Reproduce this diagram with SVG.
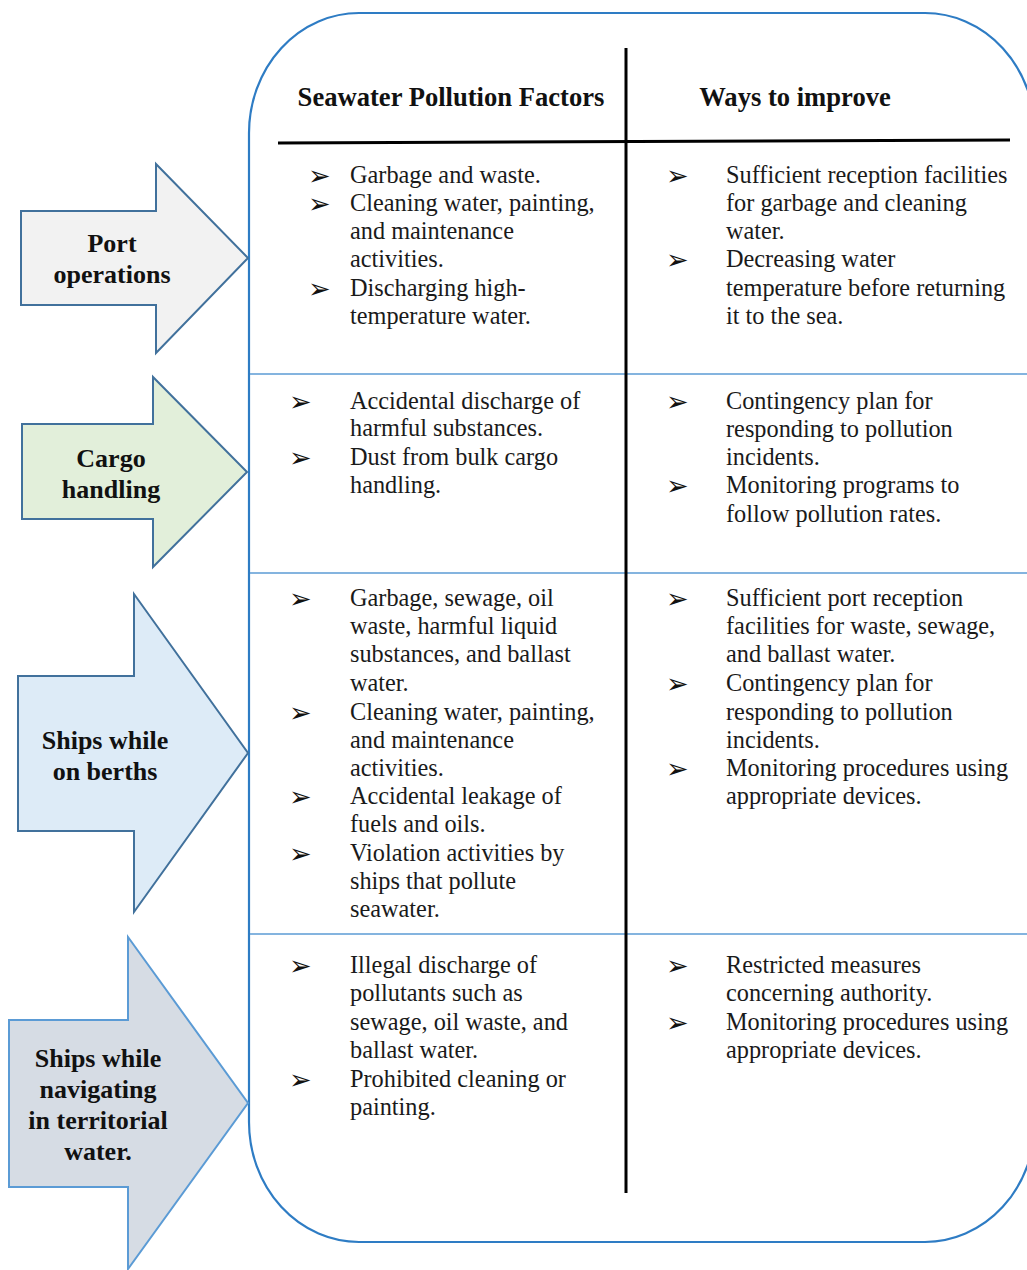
<svg xmlns="http://www.w3.org/2000/svg" width="1027" height="1270" viewBox="0 0 1027 1270">
<style>
.body{font-family:"Liberation Serif","Times New Roman",serif;font-size:24.3px;fill:#1a1a1a}
.bul{font-family:"DejaVu Sans",sans-serif;font-size:27px;fill:#111}
.hdr{font-family:"Liberation Serif","Times New Roman",serif;font-size:26.6px;font-weight:bold;fill:#111;text-anchor:middle}
.lbl{font-family:"Liberation Serif","Times New Roman",serif;font-size:26px;font-weight:bold;fill:#111;text-anchor:middle}
.arr{stroke:#41719C;stroke-width:2;stroke-linejoin:miter}
.sep{stroke:#5B9BD5;stroke-width:1.5}
.blk{stroke:#000;stroke-width:3}
</style>
<rect width="1027" height="1270" fill="#fff"/>

<g id="frame">
<rect x="249" y="13" width="786" height="1229" rx="110" ry="120" fill="#fff" stroke="#2E7CC4" stroke-width="2.2"/>
</g>

<g id="connectors">
<line class="sep" x1="250" y1="374" x2="1027" y2="374"/>
<line class="sep" x1="250" y1="573" x2="1027" y2="573"/>
<line class="sep" x1="250" y1="934" x2="1027" y2="934"/>
<line class="blk" x1="278" y1="143" x2="1010" y2="140"/>
<line class="blk" x1="626" y1="48" x2="626" y2="1193"/>
</g>

<g id="header">
<text class="hdr" x="451" y="106">Seawater Pollution Factors</text>
<text class="hdr" x="795" y="106">Ways to improve</text>
</g>

<g id="arrow-port">
<polygon class="arr" fill="#F2F2F2" points="21,211 156,211 156,164 248,258 156,353 156,305 21,305"/>
<text class="lbl" x="112" y="252">Port</text>
<text class="lbl" x="112" y="283">operations</text>
</g>

<g id="arrow-cargo">
<polygon class="arr" fill="#E2EFDA" points="22,424 153,424 153,377 247,472 153,567 153,519 22,519"/>
<text class="lbl" x="111" y="467">Cargo</text>
<text class="lbl" x="111" y="498">handling</text>
</g>

<g id="arrow-berths">
<polygon class="arr" fill="#DDEBF7" points="18,676 134,676 134,594 248,753 134,912 134,831 18,831"/>
<text class="lbl" x="105" y="749">Ships while</text>
<text class="lbl" x="105" y="780">on berths</text>
</g>

<g id="arrow-navigating">
<polygon fill="#D6DCE4" stroke="#5B9BD5" stroke-width="2" points="9,1020 128,1020 128,937 248,1103 128,1269 128,1187 9,1187"/>
<text class="lbl" x="98" y="1067">Ships while</text>
<text class="lbl" x="98" y="1098">navigating</text>
<text class="lbl" x="98" y="1129">in territorial</text>
<text class="lbl" x="98" y="1160">water.</text>
</g>

<g id="row1-factors">
<text class="bul" x="308" y="185">➢</text>
<text class="bul" x="308" y="213">➢</text>
<text class="bul" x="308" y="298">➢</text>
<text class="body" x="350" y="183">Garbage and waste.</text>
<text class="body" x="350" y="211">Cleaning water, painting,</text>
<text class="body" x="350" y="239">and maintenance</text>
<text class="body" x="350" y="267">activities.</text>
<text class="body" x="350" y="296">Discharging high-</text>
<text class="body" x="350" y="324">temperature water.</text>
</g>

<g id="row1-improve">
<text class="bul" x="666" y="185">➢</text>
<text class="bul" x="666" y="269">➢</text>
<text class="body" x="726" y="183">Sufficient reception facilities</text>
<text class="body" x="726" y="211">for garbage and cleaning</text>
<text class="body" x="726" y="239">water.</text>
<text class="body" x="726" y="267">Decreasing water</text>
<text class="body" x="726" y="296">temperature before returning</text>
<text class="body" x="726" y="324">it to the sea.</text>
</g>

<g id="row2-factors">
<text class="bul" x="289" y="411">➢</text>
<text class="bul" x="289" y="467">➢</text>
<text class="body" x="350" y="409">Accidental discharge of</text>
<text class="body" x="350" y="436">harmful substances.</text>
<text class="body" x="350" y="465">Dust from bulk cargo</text>
<text class="body" x="350" y="493">handling.</text>
</g>

<g id="row2-improve">
<text class="bul" x="666" y="411">➢</text>
<text class="bul" x="666" y="495">➢</text>
<text class="body" x="726" y="409">Contingency plan for</text>
<text class="body" x="726" y="437">responding to pollution</text>
<text class="body" x="726" y="465">incidents.</text>
<text class="body" x="726" y="493">Monitoring programs to</text>
<text class="body" x="726" y="522">follow pollution rates.</text>
</g>

<g id="row3-factors">
<text class="bul" x="289" y="608">➢</text>
<text class="bul" x="289" y="722">➢</text>
<text class="bul" x="289" y="806">➢</text>
<text class="bul" x="289" y="863">➢</text>
<text class="body" x="350" y="606">Garbage, sewage, oil</text>
<text class="body" x="350" y="634">waste, harmful liquid</text>
<text class="body" x="350" y="662">substances, and ballast</text>
<text class="body" x="350" y="691">water.</text>
<text class="body" x="350" y="720">Cleaning water, painting,</text>
<text class="body" x="350" y="748">and maintenance</text>
<text class="body" x="350" y="776">activities.</text>
<text class="body" x="350" y="804">Accidental leakage of</text>
<text class="body" x="350" y="832">fuels and oils.</text>
<text class="body" x="350" y="861">Violation activities by</text>
<text class="body" x="350" y="889">ships that pollute</text>
<text class="body" x="350" y="917">seawater.</text>
</g>

<g id="row3-improve">
<text class="bul" x="666" y="608">➢</text>
<text class="bul" x="666" y="693">➢</text>
<text class="bul" x="666" y="778">➢</text>
<text class="body" x="726" y="606">Sufficient port reception</text>
<text class="body" x="726" y="634">facilities for waste, sewage,</text>
<text class="body" x="726" y="662">and ballast water.</text>
<text class="body" x="726" y="691">Contingency plan for</text>
<text class="body" x="726" y="720">responding to pollution</text>
<text class="body" x="726" y="748">incidents.</text>
<text class="body" x="726" y="776">Monitoring procedures using</text>
<text class="body" x="726" y="804">appropriate devices.</text>
</g>

<g id="row4-factors">
<text class="bul" x="289" y="975">➢</text>
<text class="bul" x="289" y="1089">➢</text>
<text class="body" x="350" y="973">Illegal discharge of</text>
<text class="body" x="350" y="1001">pollutants such as</text>
<text class="body" x="350" y="1030">sewage, oil waste, and</text>
<text class="body" x="350" y="1058">ballast water.</text>
<text class="body" x="350" y="1087">Prohibited cleaning or</text>
<text class="body" x="350" y="1115">painting.</text>
</g>

<g id="row4-improve">
<text class="bul" x="666" y="975">➢</text>
<text class="bul" x="666" y="1032">➢</text>
<text class="body" x="726" y="973">Restricted measures</text>
<text class="body" x="726" y="1001">concerning authority.</text>
<text class="body" x="726" y="1030">Monitoring procedures using</text>
<text class="body" x="726" y="1058">appropriate devices.</text>
</g>
</svg>
